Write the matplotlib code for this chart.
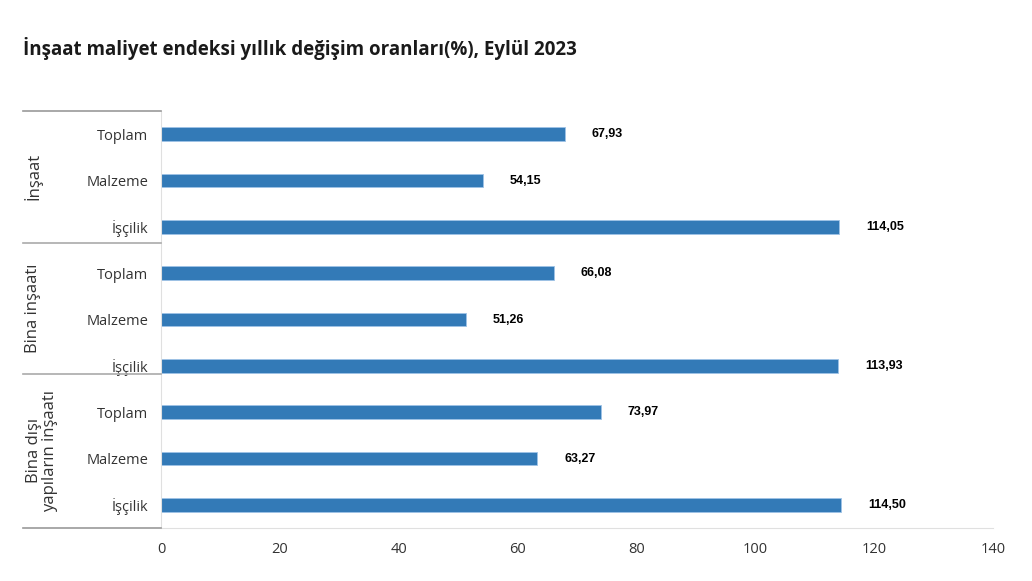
import matplotlib
matplotlib.use("Agg")
import matplotlib.pyplot as plt

title = "İnşaat maliyet endeksi yıllık değişim oranları(%), Eylül 2023"
groups = ["İnşaat", "Bina inşaatı", "Bina dışı\nyapıların inşaatı"]
subcats = ["Toplam", "Malzeme", "İşçilik"]
values = [67.93, 54.15, 114.05, 66.08, 51.26, 113.93, 73.97, 63.27, 114.50]
xticks = [0, 20, 40, 60, 80, 100, 120, 140]

W, H = 1032, 581
fig = plt.figure(figsize=(W / 100, H / 100), dpi=100)
L, R, T, B = 161, 993, 111, 528
ax = fig.add_axes([L / W, 1 - B / H, (R - L) / W, (B - T) / H])

n = len(values)
ypos = list(range(n))
ax.barh(ypos, values, height=0.3, color="#337ab7", edgecolor="#9ec3e6", linewidth=0.6)
ax.set_xlim(0, 140)
ax.set_ylim(n - 0.5, -0.5)

for s in ["top", "right"]:
    ax.spines[s].set_visible(False)
ax.spines["left"].set_color("#e0e0e0")
ax.spines["bottom"].set_color("#e0e0e0")
ax.set_xticks(xticks)
ax.set_xticklabels([str(t) for t in xticks], fontsize=10.5, color="#333333", family="Open Sans")
ax.tick_params(axis="x", length=0, pad=10)
ax.set_yticks(ypos)
ax.set_yticklabels(subcats * len(groups), fontsize=10.5, color="#333333", family="Open Sans")
ax.tick_params(axis="y", length=0, pad=9)

# value labels
px_per_unit = (R - L) / 140
for y, v in zip(ypos, values):
    ax.text(v + 27 / px_per_unit, y, f"{v:.2f}".replace(".", ","), va="center", ha="left",
            fontsize=9, fontweight="bold", color="#000000", family="Liberation Sans")

# group separators and labels (in axes y data coords)
trans = matplotlib.transforms.blended_transform_factory(fig.transFigure, ax.transData)
x0 = 23 / W
x1 = L / W
sep_y = [-0.5, 2.345, 5.168, n - 0.5]
for i, yy in enumerate(sep_y):
    col = "#999999" if i in (0, len(sep_y) - 1) else "#aaaaaa"
    fig.add_artist(plt.Line2D([x0, x1], [yy, yy], transform=trans, color=col, lw=1.2))

gx = [33 / W, 33 / W, 42 / W]
for gi, g in enumerate(groups):
    yc = (sep_y[gi] + sep_y[gi + 1]) / 2
    fig.text(gx[gi], yc, g, transform=trans, rotation=90, ha="center", va="center",
             fontsize=12, color="#333333", family="Open Sans", linespacing=1.0, multialignment="center")

fig.text(23 / W, 1 - 48 / H, title, ha="left", va="center", fontsize=13.5, fontweight="bold",
         color="#1a1a1a", family="Open Sans")

fig.savefig("out.png", dpi=100)
